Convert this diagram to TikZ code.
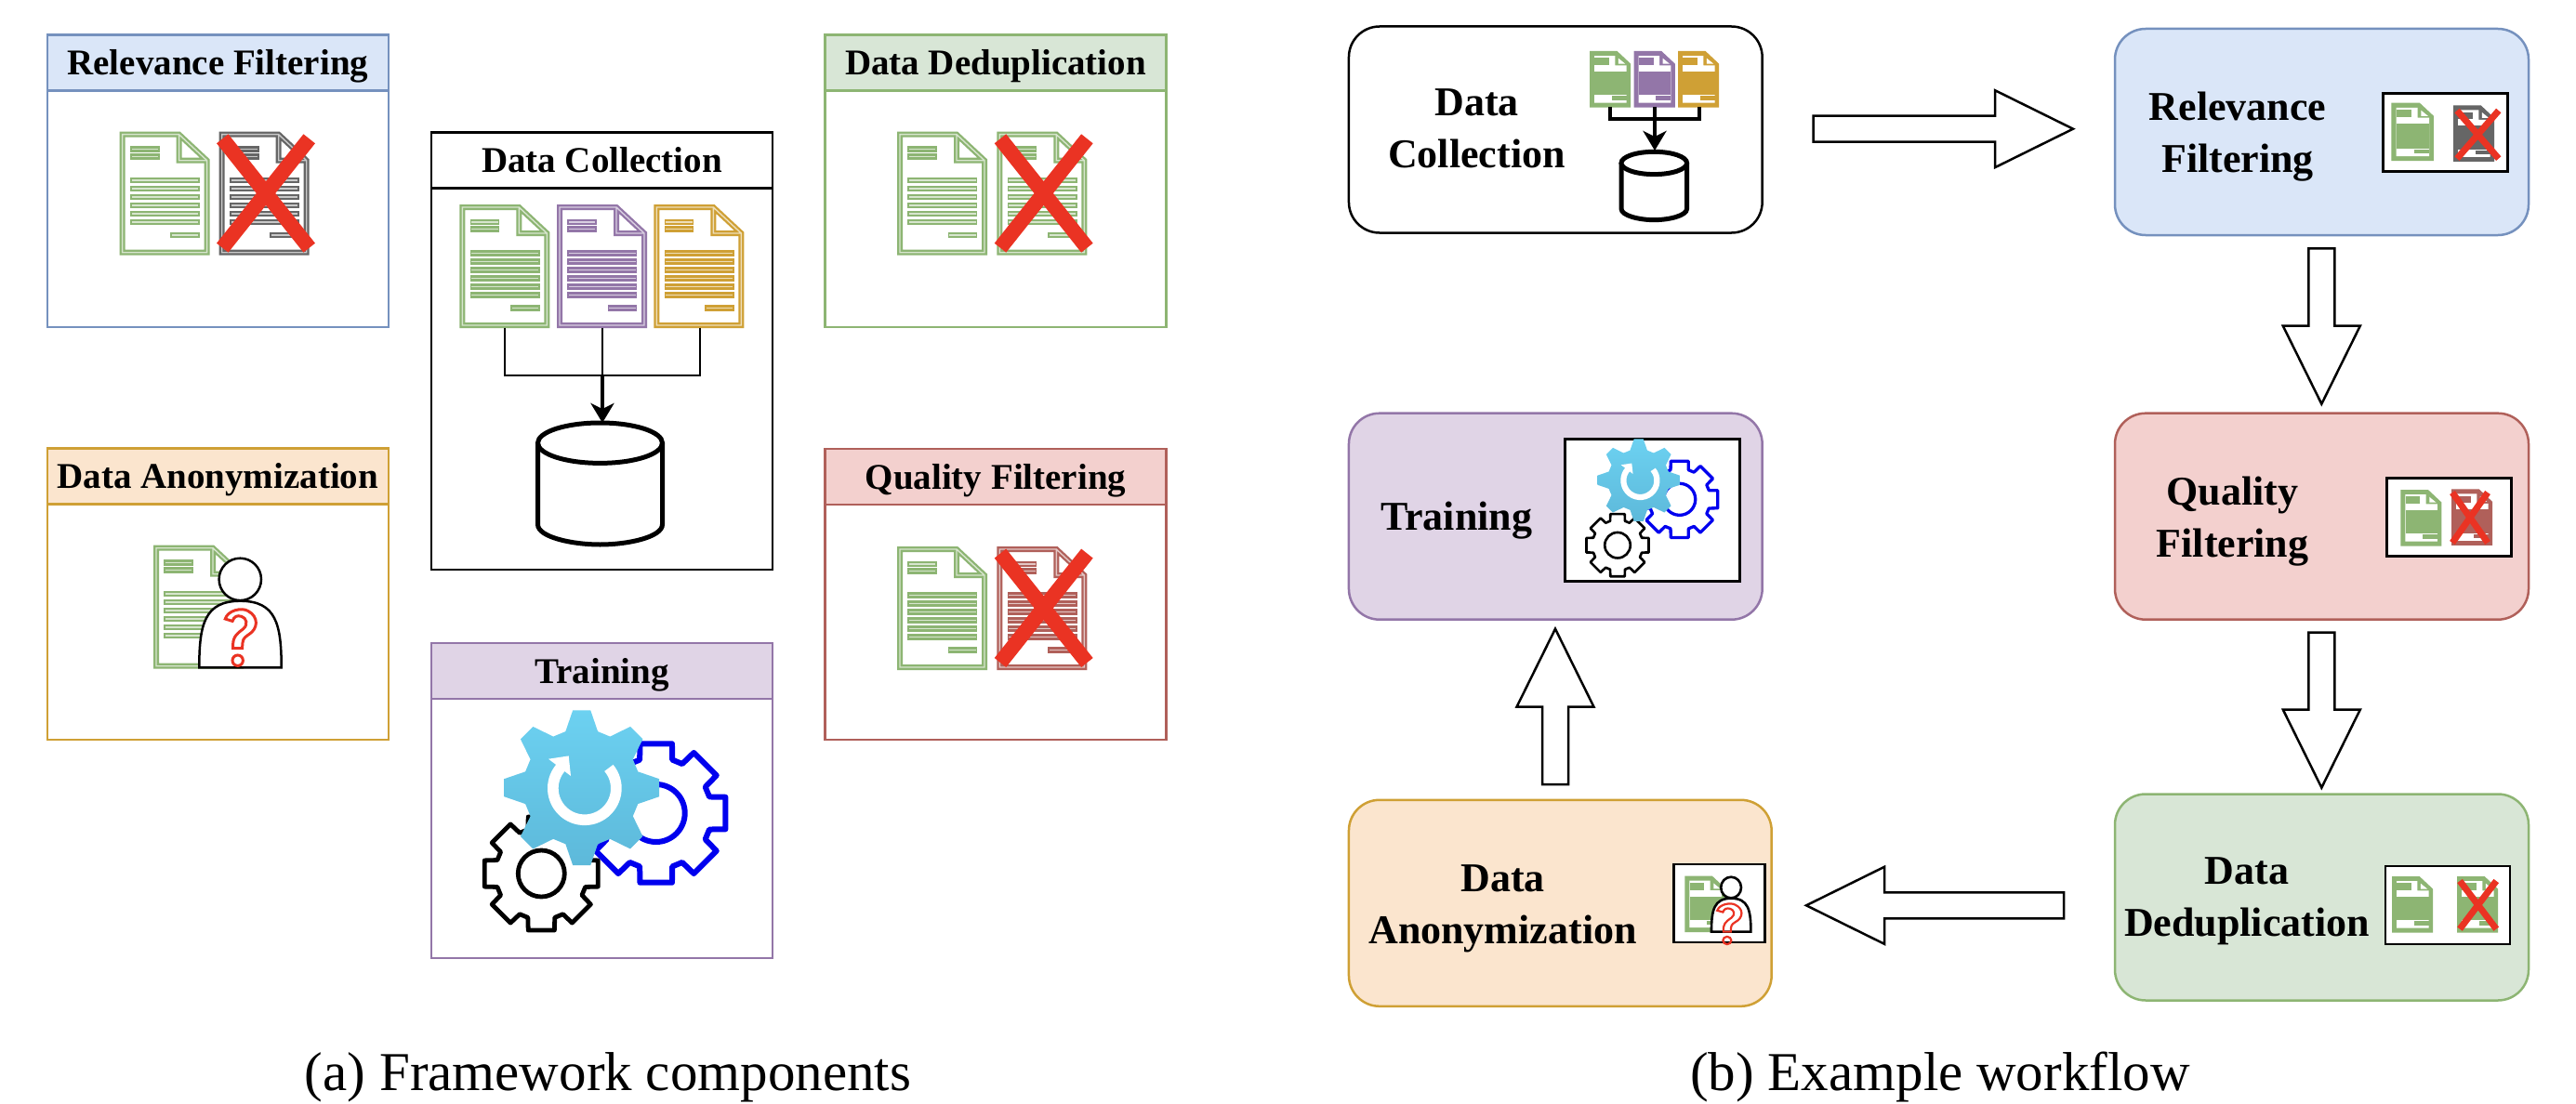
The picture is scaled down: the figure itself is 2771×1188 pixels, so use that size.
\documentclass[tikz,border=0pt]{standalone}
\usepackage{fontspec}
\setmainfont{Liberation Serif}
\usetikzlibrary{arrows.meta,calc}
\definecolor{relline}{HTML}{7591BE}
\definecolor{relfill}{HTML}{DAE6F8}
\definecolor{dedupline}{HTML}{8DB573}
\definecolor{dedupfill}{HTML}{D8E6D6}
\definecolor{anonline}{HTML}{CFA035}
\definecolor{anonfill}{HTML}{FBE5CE}
\definecolor{qualline}{HTML}{B0605A}
\definecolor{qualfill}{HTML}{F3D0CE}
\definecolor{trainline}{HTML}{9376A8}
\definecolor{trainfill}{HTML}{E0D4E6}
\definecolor{collline}{HTML}{000000}
\definecolor{collfill}{HTML}{FFFFFF}
\definecolor{docgray}{HTML}{666666}
\definecolor{crossred}{HTML}{EA3323}
\definecolor{gearblue}{HTML}{0000EE}
\definecolor{gearcyantop}{HTML}{6CD1F1}
\definecolor{gearcyanbot}{HTML}{5DB9DA}
\tikzset{
  panelbody/.style={draw=#1line,line width=2.5pt,fill=white,inner sep=0pt,minimum width=367pt},
  panelhead/.style={draw=#1line,fill=#1fill,line width=2.5pt,inner sep=0pt,minimum width=367pt,minimum height=60pt,
    text height=34pt,text depth=8pt,font=\fontsize{39}{47}\selectfont\bfseries},
  stagebox/.style={draw=#1line,fill=#1fill,line width=2.5pt,rounded corners=33pt,inner sep=0pt,minimum height=222pt},
  stagetext/.style={align=center,inner sep=0pt,font=\fontsize{44}{56}\selectfont\bfseries},
  iconbox/.style={draw=black,fill=white,line width=2.5pt,inner sep=0pt},
  captiontext/.style={anchor=base,inner sep=0pt,font=\fontsize{59}{70}\selectfont},
  feedline/.style={-{Stealth[length=21pt,width=25pt,inset=6pt]},draw=black,line width=3.5pt},
  joinline/.style={draw=black,line width=2.2pt},
  blockflow/.style={draw=black,fill=white,line width=2.5pt,
    to path={-- ($(\tikztostart)!14pt!90:(\tikztotarget)$)
      -- ($(\tikztotarget)!84pt!(\tikztostart)!14pt!90:(\tikztotarget)$)
      -- ($(\tikztotarget)!84pt!(\tikztostart)!41.5pt!90:(\tikztotarget)$)
      -- (\tikztotarget)
      -- ($(\tikztotarget)!84pt!(\tikztostart)!41.5pt!-90:(\tikztotarget)$)
      -- ($(\tikztotarget)!84pt!(\tikztostart)!14pt!-90:(\tikztotarget)$)
      -- ($(\tikztostart)!14pt!-90:(\tikztotarget)$) -- cycle}},
  pics/docicon/.style={code={
    \path[draw=#1,fill=white,line width=2.3pt,double=#1!35!white,double distance=1.4pt]
      (3,3) -- (64,3) -- (94,31) -- (94,130) -- (3,130) -- cycle (64,3) -- (64,31) -- (94,31);
    \foreach \barx/\bary/\barw in {11.3/15.7/31.7,11.3/23.3/31.7,11.3/49/75,11.3/58/75,11.3/67/75,11.3/76/75,11.3/85/75,11.3/94/75,54.7/108/31.6}{
      \fill[#1] (\barx,\bary) rectangle ++(\barw,6.5);
      \fill[#1!35!white] ({\barx+1.6},{\bary+2.5}) rectangle ++({\barw-3.2},1.5);
    }
  }},
  pics/docsmall/.style={code={
    \fill[#1] (0,0) -- (65,0) -- (97,30) -- (97,133) -- (0,133) -- cycle;
    \fill[white] (11,11) -- (60,11) -- (60,34) -- (87,34) -- (87,122) -- (11,122) -- cycle;
    \fill[white] (68,17) -- (84,30) -- (68,30) -- cycle;
    \fill[#1] (12,16) rectangle (46,33);
    \fill[#1] (12,48) rectangle (87,104);
    \fill[#1] (52,106) rectangle (87,116);
  }},
  pics/xmark/.style={code={
    \draw[crossred,line width=#1] (0,0) -- (93.4,117.4) (93.4,0) -- (0,117.4);
  }},
  pics/dbcyl/.style={code={
    \draw[fill=white,line width=#1] (-67,21.7) -- (-67,109.3) .. controls (-67,123) and (-30,131) .. (0,131)
      .. controls (30,131) and (67,123) .. (67,109.3) -- (67,21.7);
    \draw[fill=white,line width=#1] (0,21.7) ellipse [x radius=67,y radius=21.7];
  }},
  pics/anonperson/.style={code={
    \draw[fill=white,line width=#1] (93.3,36.7) circle [radius=22.7];
    \draw[fill=white,line width=#1] (49.3,131.7) .. controls (49.3,85) and (55,60) .. (93.5,60)
      .. controls (132,60) and (137.7,85) .. (137.7,131.7) -- cycle;
  }},
  pics/qmark/.style={code={
    \draw[crossred,line width=#1] (77.3,79.3) .. controls (80,70) and (95,66.7) .. (101.7,70.7)
      .. controls (113.3,76.7) and (113.3,90) .. (101.7,96.7)
      .. controls (96.7,100) and (95.7,101.7) .. (95.7,111) -- (85.7,111)
      .. controls (85,100) and (87.7,96.7) .. (96.7,90)
      .. controls (102.3,85) and (100,78.3) .. (95,76.7)
      .. controls (90,75) and (86.7,76.7) .. (85,81.7) -- cycle;
    \draw[crossred,line width=#1] (90.7,124) circle [radius=5.7];
  }},
  pics/geargblue/.style={code={
    \begin{scope}[scale=#1]
    \draw[gearblue,fill=white,line width=#1*6pt,line join=round] (-13:76.7)
      foreach \a in {0,45,...,315} { -- ({\a-13}:76.7) -- ({\a+13}:76.7) -- ({\a+17}:60) -- ({\a+28}:60) } -- cycle;
    \draw[gearblue,line width=#1*6pt] (0,0) circle [radius=31];
    \end{scope}
  }},
  pics/gearblack/.style={code={
    \begin{scope}[scale=#1]
    \draw[black,fill=white,line width=#1*4.8pt,line join=round] (-13:62.6)
      foreach \a in {0,45,...,315} { -- ({\a-13}:62.6) -- ({\a+13}:62.6) -- ({\a+17}:49.5) -- ({\a+28}:49.5) } -- cycle;
    \draw[black,line width=#1*4.8pt] (0,0) circle [radius=25];
    \end{scope}
  }},
  pics/gearcyan/.style={code={
    \begin{scope}[scale=#1]
    \shade[top color=gearcyantop,bottom color=gearcyanbot] (-6.5:84)
      foreach \a in {0,45,...,315} { -- ({\a-6.5}:84) -- ({\a+6.5}:84) -- ({\a+16}:63) -- ({\a+29}:63) } -- cycle;
    \draw[white,line width=#1*11.7pt] (29.2,-21.3) arc [start angle=-40,end angle=222,radius=34];
    \fill[white] (-35.7,-31) -- (-14,-34.3) -- (-11.7,-12.7) -- cycle;
    \end{scope}
  }},
}
\begin{document}
\begin{tikzpicture}[x=1pt,y=-1pt]
\useasboundingbox (0,0) rectangle (2771,1188);
\foreach \pname/\ptext/\pcx/\ptop/\pbot in {rel/Relevance Filtering/234.3/37.7/352,anon/Data Anonymization/234.3/482.7/796,coll/Data Collection/647.5/142.7/613,train/Training/647.5/692/1031,dedup/Data Deduplication/1071/37.7/352,qual/Quality Filtering/1071/483/796}{
  \node[panelbody=\pname,minimum height={\pbot-\ptop}] (\pname body) at (\pcx,{(\ptop+\pbot)/2}) {};
  \node[panelhead=\pname] (\pname head) at (\pcx,{\ptop+30}) {\ptext};
}
\pic at (128.6,141.7) {docicon=dedupline};
\pic at (235.7,141.7) {docicon=docgray};
\pic at (239.3,149.3) {xmark=16pt};
\pic at (965,141.7) {docicon=dedupline};
\pic at (1072.3,141.7) {docicon=dedupline};
\pic at (1076,149.3) {xmark=16pt};
\pic at (965,588) {docicon=dedupline};
\pic at (1072.3,588) {docicon=qualline};
\pic at (1076,595.6) {xmark=16pt};
\pic at (165,586.7) {docicon=dedupline};
\pic at (165,586.7) {anonperson=2.5pt};
\pic at (165,586.7) {qmark=3pt};
\pic at (494.3,220) {docicon=dedupline};
\pic at (599,220) {docicon=trainline};
\pic at (703.3,220) {docicon=anonline};
\coordinate (docgreen) at (543.3,352.7);
\coordinate (docpurple) at (648,352.7);
\coordinate (docorange) at (752.7,352.7);
\coordinate (docjoin) at (648,404);
\coordinate (dbtop) at (648,455);
\draw[joinline] (docgreen) |- (docjoin);
\draw[joinline] (docorange) |- (docjoin);
\draw[joinline] (docpurple) -- (docjoin);
\draw[feedline] (docjoin) -- (dbtop);
\pic at (645.5,455) {dbcyl=5pt};
\pic at (705.7,875) {geargblue=1};
\pic at (582.3,940) {gearblack=1};
\pic at (625.7,847.7) {gearcyan=1};
\foreach \sname/\scx/\scy/\sw in {coll/1673.3/139.5/444.7,rel/2497.5/142/445,train/1673.3/555.7/444.7,qual/2497.5/555.7/445,dedup/2497.5/965.5/445,anon/1678.3/971.8/454.7}{
  \node[stagebox=\sname,minimum width=\sw] (\sname stage) at (\scx,\scy) {};
}
\node[stagetext] (colltext) at (1588.5,138) {Data\\Collection};
\node[stagetext] (reltext) at (2407,147) {Relevance\\Filtering};
\node[stagetext] (traintext) at (1566.7,560) {Training};
\node[stagetext] (qualtext) at (2401.5,561) {Quality\\Filtering};
\node[stagetext] (deduptext) at (2417,970) {Data\\Deduplication};
\node[stagetext] (anontext) at (1616.5,978) {Data\\Anonymization};
\pic[scale=.455] at (1710,55) {docsmall=dedupline};
\pic[scale=.455] at (1757.7,55) {docsmall=trainline};
\pic[scale=.455] at (1805,55) {docsmall=anonline};
\coordinate (smallgreen) at (1732.3,115);
\coordinate (smallpurple) at (1780,115);
\coordinate (smallorange) at (1827.7,115);
\coordinate (smalljoin) at (1780,128.3);
\coordinate (smalltop) at (1780,162);
\draw[draw=black,line width=4pt] (smallgreen) |- (smalljoin);
\draw[draw=black,line width=4pt] (smallorange) |- (smalljoin);
\draw[feedline,line width=4.5pt] (smallpurple) -- (smalltop);
\pic[xscale=.527,yscale=.56] at (1779.3,163.3) {dbcyl=5pt};
\node[iconbox,minimum width=134pt,minimum height=84.4pt] (relicon) at (2630.3,142.5) {};
\pic[scale=.47] at (2572.3,110.7) {docsmall=dedupline};
\pic[scale=.455] at (2639,113.3) {docsmall=docgray};
\pic[xscale=.479,yscale=.44] at (2643,119) {xmark=7pt};
\node[iconbox,minimum width=134pt,minimum height=84pt] (qualicon) at (2634.7,556.3) {};
\pic[scale=.455] at (2582.3,527) {docsmall=dedupline};
\pic[scale=.455] at (2637,526.3) {docsmall=qualline};
\pic[xscale=.407,yscale=.46] at (2638,530) {xmark=7pt};
\node[iconbox,minimum width=134pt,minimum height=84pt] (dedupicon) at (2633,974) {};
\pic[scale=.455] at (2573,943) {docsmall=dedupline};
\pic[scale=.455] at (2643,943) {docsmall=dedupline};
\pic[xscale=.42,yscale=.44] at (2646,948) {xmark=7pt};
\node[iconbox,minimum width=98pt,minimum height=84pt] (anonicon) at (1849.5,972) {};
\pic[scale=.455] at (1812.3,942.7) {docsmall=dedupline};
\pic[xscale=.48,yscale=.5] at (1817.3,936.7) {anonperson=2.6pt};
\pic[xscale=.79,yscale=.72] at (1786.2,922.7) {qmark=2.2pt};
\node[iconbox,minimum width=188.4pt,minimum height=153.4pt] (trainicon) at (1777.5,549) {};
\pic at (1806.7,537.3) {geargblue=.55};
\pic at (1740,586.7) {gearblack=.55};
\pic at (1762.7,516.7) {gearcyan=.53};
\coordinate (flowAa) at (1950.7,138.7);
\coordinate (flowAb) at (2230,138.7);
\coordinate (flowBa) at (2497.3,267.3);
\coordinate (flowBb) at (2497.3,434.7);
\coordinate (flowCa) at (2497.3,680.5);
\coordinate (flowCb) at (2497.3,847.6);
\coordinate (flowDa) at (2220,974.3);
\coordinate (flowDb) at (1943,974.3);
\coordinate (flowEa) at (1673,844);
\coordinate (flowEb) at (1673,676.7);
\draw[blockflow] (flowAa) to (flowAb);
\draw[blockflow] (flowBa) to (flowBb);
\draw[blockflow] (flowCa) to (flowCb);
\draw[blockflow] (flowDa) to (flowDb);
\draw[blockflow] (flowEa) to (flowEb);
\node[captiontext] (captiona) at (654,1173) {(a) Framework components};
\node[captiontext] (captionb) at (2087,1173) {(b) Example workflow};
\end{tikzpicture}
\end{document}
